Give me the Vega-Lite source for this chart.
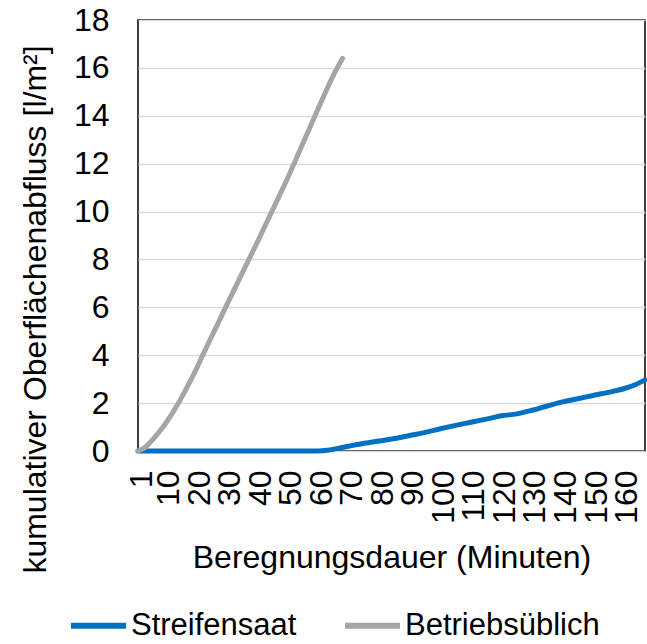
{
  "$schema": "https://vega.github.io/schema/vega-lite/v6.json",
  "autosize": "none",
  "width": 507,
  "height": 431,
  "padding": {"left": 138, "top": 20, "right": 2, "bottom": 193},
  "background": "white",
  "config": {
    "font": "Liberation Sans",
    "view": {"stroke": "#000000", "strokeWidth": 1.5}
  },
  "data": {
    "values": [
      {"minute": 1, "value": 0, "serie": "Streifensaat"},
      {"minute": 55, "value": 0, "serie": "Streifensaat"},
      {"minute": 60, "value": 0, "serie": "Streifensaat"},
      {"minute": 63, "value": 0.03, "serie": "Streifensaat"},
      {"minute": 66, "value": 0.1, "serie": "Streifensaat"},
      {"minute": 70, "value": 0.2, "serie": "Streifensaat"},
      {"minute": 75, "value": 0.32, "serie": "Streifensaat"},
      {"minute": 80, "value": 0.42, "serie": "Streifensaat"},
      {"minute": 85, "value": 0.52, "serie": "Streifensaat"},
      {"minute": 90, "value": 0.65, "serie": "Streifensaat"},
      {"minute": 95, "value": 0.78, "serie": "Streifensaat"},
      {"minute": 100, "value": 0.93, "serie": "Streifensaat"},
      {"minute": 105, "value": 1.07, "serie": "Streifensaat"},
      {"minute": 110, "value": 1.2, "serie": "Streifensaat"},
      {"minute": 115, "value": 1.33, "serie": "Streifensaat"},
      {"minute": 120, "value": 1.47, "serie": "Streifensaat"},
      {"minute": 125, "value": 1.55, "serie": "Streifensaat"},
      {"minute": 130, "value": 1.7, "serie": "Streifensaat"},
      {"minute": 135, "value": 1.88, "serie": "Streifensaat"},
      {"minute": 140, "value": 2.05, "serie": "Streifensaat"},
      {"minute": 145, "value": 2.18, "serie": "Streifensaat"},
      {"minute": 150, "value": 2.32, "serie": "Streifensaat"},
      {"minute": 155, "value": 2.45, "serie": "Streifensaat"},
      {"minute": 160, "value": 2.6, "serie": "Streifensaat"},
      {"minute": 164, "value": 2.78, "serie": "Streifensaat"},
      {"minute": 167, "value": 2.97, "serie": "Streifensaat"},
      {"minute": 1, "value": 0, "serie": "Betriebsüblich"},
      {"minute": 3, "value": 0.12, "serie": "Betriebsüblich"},
      {"minute": 5, "value": 0.36, "serie": "Betriebsüblich"},
      {"minute": 7, "value": 0.65, "serie": "Betriebsüblich"},
      {"minute": 9, "value": 0.97, "serie": "Betriebsüblich"},
      {"minute": 11, "value": 1.33, "serie": "Betriebsüblich"},
      {"minute": 14, "value": 1.95, "serie": "Betriebsüblich"},
      {"minute": 17, "value": 2.65, "serie": "Betriebsüblich"},
      {"minute": 20, "value": 3.4, "serie": "Betriebsüblich"},
      {"minute": 22, "value": 3.95, "serie": "Betriebsüblich"},
      {"minute": 25, "value": 4.75, "serie": "Betriebsüblich"},
      {"minute": 30, "value": 6.08, "serie": "Betriebsüblich"},
      {"minute": 35, "value": 7.4, "serie": "Betriebsüblich"},
      {"minute": 40, "value": 8.7, "serie": "Betriebsüblich"},
      {"minute": 45, "value": 10.05, "serie": "Betriebsüblich"},
      {"minute": 50, "value": 11.4, "serie": "Betriebsüblich"},
      {"minute": 55, "value": 12.85, "serie": "Betriebsüblich"},
      {"minute": 60, "value": 14.3, "serie": "Betriebsüblich"},
      {"minute": 65, "value": 15.7, "serie": "Betriebsüblich"},
      {"minute": 68, "value": 16.4, "serie": "Betriebsüblich"}
    ]
  },
  "mark": {"type": "line", "strokeWidth": 5, "strokeCap": "round", "interpolate": "monotone", "clip": false},
  "encoding": {
    "x": {
      "field": "minute",
      "type": "quantitative",
      "scale": {"domain": [1, 167], "nice": false, "zero": false},
      "axis": {
        "values": [1, 10, 20, 30, 40, 50, 60, 70, 80, 90, 100, 110, 120, 130, 140, 150, 160],
        "labelAngle": -90,
        "labelAlign": "right",
        "labelBaseline": "middle",
        "labelFontSize": 32,
        "labelColor": "#000000",
        "labelPadding": 19,
        "labelOffset": 3,
        "labelFlush": false,
        "labelOverlap": false,
        "ticks": false,
        "grid": false,
        "domain": false,
        "title": "Beregnungsdauer (Minuten)",
        "titleFontSize": 32,
        "titleFontWeight": "normal",
        "titleColor": "#000000",
        "titleX": 253.5,
        "titleY": 116,
        "titleAlign": "center",
        "titleBaseline": "alphabetic"
      }
    },
    "y": {
      "field": "value",
      "type": "quantitative",
      "scale": {"domain": [0, 18], "nice": false},
      "axis": {
        "values": [0, 2, 4, 6, 8, 10, 12, 14, 16, 18],
        "labelFontSize": 32,
        "labelColor": "#000000",
        "labelPadding": 29,
        "ticks": false,
        "domain": false,
        "grid": true,
        "gridColor": "#d9d9d9",
        "gridWidth": 1.5,
        "title": "kumulativer Oberflächenabfluss [l/m²]",
        "titleFontSize": 32,
        "titleFontWeight": "normal",
        "titleColor": "#000000",
        "titleAngle": -90,
        "titleX": -103,
        "titleY": 289,
        "titleAlign": "center",
        "titleBaseline": "middle"
      }
    },
    "color": {
      "field": "serie",
      "type": "nominal",
      "sort": ["Streifensaat", "Betriebsüblich"],
      "scale": {"domain": ["Streifensaat", "Betriebsüblich"], "range": ["#0070C0", "#A5A5A5"]},
      "legend": {
        "title": null,
        "orient": "none",
        "direction": "horizontal",
        "legendX": -70,
        "legendY": 575,
        "symbolType": "stroke",
        "symbolSize": 3025,
        "symbolStrokeWidth": 6,
        "labelFontSize": 31,
        "labelLimit": 400,
        "labelColor": "#000000",
        "labelOffset": 2,
        "columnPadding": 36
      }
    },
    "order": {"field": "minute", "type": "quantitative"}
  }
}
